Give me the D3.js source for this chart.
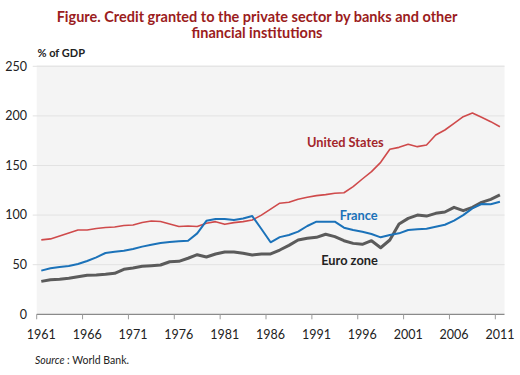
<!DOCTYPE html>
<html><head><meta charset="utf-8">
<script src="https://cdn.jsdelivr.net/npm/d3@7"></script>
<style>
body{margin:0;background:#fff;}
svg{display:block;}
text{font-family:Lato,"Open Sans",sans-serif;}
</style></head>
<body><svg id="chart" width="520" height="375"></svg>
<script>
const years = d3.range(1961, 2012);
const unitedStates = [75,76,79,82,85,85,86.5,87.5,88,89.5,90,92.5,94,93.5,91,88.5,89,88.5,91.7,93.4,90.7,92.4,93.4,95,100,106,112,113,116,118,119.6,120.6,122,122.5,128.7,136.4,143.8,153.2,166.3,168.3,171.4,169,170.7,180.7,185.8,192.5,199.2,202.9,198.6,194.2,189.1];
const france = [44,46.4,47.7,48.7,50.7,53.7,57.4,61.8,63.1,64.1,65.8,68.2,70.2,71.9,72.9,73.6,74.2,81.6,94.2,96,96,95,96.6,99,86,72.6,77.8,80,83.3,89,93.4,93.4,93.4,87.3,85,83.3,81,77.6,80,81.6,85,85.7,86.3,88.3,90.3,94.4,100,106.8,111.2,110.9,113.5];
const euroZone = [33.2,34.9,35.3,36.3,37.9,39.3,39.6,40.3,41.3,45.4,46.7,48.4,49,49.7,53,53.4,56.5,60.1,57.8,60.8,62.8,62.8,61.5,59.8,60.8,60.8,64.8,69.5,74.9,76.6,77.6,80.7,78.3,74.2,71.5,70.5,74.2,67.1,74.9,91,96.7,100,99,101.8,103.1,107.8,104.5,107.8,112.9,115.9,120.3];
const yTicks = [0,50,100,150,200,250];
const xTickYears = [1961,1966,1971,1976,1981,1986,1991,1996,2001,2006,2011];
const titleLines = ["Figure. Credit granted to the private sector by banks and other","financial institutions"];

const svg = d3.select("#chart");
const pLeft = 36.7, pRight = 504.5, pTop = 66.3, pBottom = 314.3;

const x = d3.scaleBand().domain(years).range([pLeft, pRight]);
const y = d3.scaleLinear().domain([0, 250]).range([pBottom, pTop]);

svg.append("rect").attr("x", pLeft).attr("y", pTop - 1).attr("width", pRight - pLeft).attr("height", pBottom - pTop + 1).attr("fill", "#f4f4f4");

svg.append("g").selectAll("line").data(yTicks.filter(d => d > 0)).join("line")
  .attr("x1", pLeft - 4).attr("x2", pRight).attr("y1", d => y(d)).attr("y2", d => y(d))
  .attr("stroke", "#e2e2e2").attr("stroke-width", 1);

svg.append("g").selectAll("text").data(yTicks).join("text")
  .attr("x", 27).attr("y", d => y(d)).attr("dy", "0.35em").attr("text-anchor", "end")
  .attr("font-size", 12.5).attr("fill", "#222").text(d => d);

svg.append("line").attr("x1", pLeft).attr("x2", pRight).attr("y1", pBottom).attr("y2", pBottom).attr("stroke", "#8a8a8a").attr("stroke-width", 1.2);
svg.append("g").selectAll("line").data(xTickYears).join("line")
  .attr("x1", d => x(d)).attr("x2", d => x(d)).attr("y1", pBottom).attr("y2", pBottom + 5)
  .attr("stroke", "#9a9a9a");
svg.append("g").selectAll("text").data(xTickYears).join("text")
  .attr("x", d => x(d) + x.bandwidth() / 2).attr("y", 339).attr("text-anchor", "middle")
  .attr("font-size", 12.5).attr("fill", "#222").text(d => d);

const line = d3.line().x((d, i) => x(years[i]) + x.bandwidth() / 2).y(d => y(d));
svg.append("path").datum(unitedStates).attr("d", line).attr("fill", "none").attr("stroke", "#cf4a4b").attr("stroke-width", 1.6).attr("stroke-linejoin", "round");
svg.append("path").datum(euroZone).attr("d", line).attr("fill", "none").attr("stroke", "#5b5b5b").attr("stroke-width", 3).attr("stroke-linejoin", "round");
svg.append("path").datum(france).attr("d", line).attr("fill", "none").attr("stroke", "#1b72b9").attr("stroke-width", 2).attr("stroke-linejoin", "round");

svg.append("text").attr("x", 345.3).attr("y", 146.8).attr("text-anchor", "middle").attr("font-size", 12.8).attr("font-weight", "bold").attr("fill", "#a3262b").text("United States");
svg.append("text").attr("x", 358.7).attr("y", 219.8).attr("text-anchor", "middle").attr("font-size", 12.8).attr("font-weight", "bold").attr("fill", "#1b72b9").text("France");
svg.append("text").attr("x", 349.5).attr("y", 264.8).attr("text-anchor", "middle").attr("font-size", 12.8).attr("font-weight", "bold").attr("fill", "#222").text("Euro zone");

svg.append("g").selectAll("text").data(titleLines).join("text")
  .attr("x", 257).attr("y", (d, i) => 22 + i * 16).attr("text-anchor", "middle")
  .attr("font-size", 14.5).attr("font-weight", "bold").attr("fill", "#9b1c20").text(d => d);

svg.append("text").attr("x", 37.5).attr("y", 57).attr("font-size", 11).attr("font-weight", "bold").attr("fill", "#222").text("% of GDP");

const src = svg.append("text").attr("x", 35).attr("y", 363.5).attr("font-size", 10.5).attr("fill", "#222");
src.append("tspan").attr("font-style", "italic").text("Source");
src.append("tspan").text(" : World Bank.");
</script></body></html>
